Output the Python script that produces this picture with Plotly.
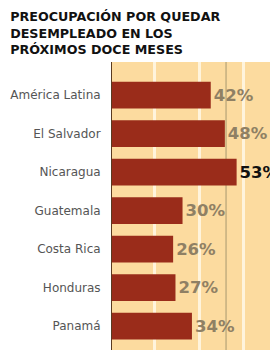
import plotly.graph_objects as go

categories = ["América Latina", "El Salvador", "Nicaragua", "Guatemala", "Costa Rica", "Honduras", "Panamá"]
values = [42, 48, 53, 30, 26, 27, 34]
value_labels = ["42%", "48%", "53%", "30%", "26%", "27%", "34%"]
label_colors = ["#8f8064", "#8f8064", "#111111", "#8f8064", "#8f8064", "#8f8064", "#8f8064"]
title_text = "PREOCUPACIÓN POR QUEDAR<br>DESEMPLEADO EN LOS<br>PRÓXIMOS DOCE MESES"
grid_vals = [18, 37, 56]
ref_line = 48.5

fig = go.Figure()
fig.add_trace(go.Bar(
    y=categories, x=values, orientation="h",
    marker=dict(color="#9a2c1a", line=dict(width=0)),
    width=0.7,
    text=value_labels, textposition="outside",
    textfont=dict(family="DejaVu Sans", size=16.5, color=label_colors, weight="bold"),
    constraintext="none", cliponaxis=False,
))
fig.add_vline(x=ref_line, line=dict(color="#a89870", width=1), layer="below")

# page body has an 8px margin; figure is sized/offset to compensate
fig.update_layout(
    width=270, height=342,
    margin=dict(l=104, r=0, t=54, b=0),
    paper_bgcolor="white", plot_bgcolor="#fcdb9f",
    showlegend=False,
    title=dict(text=title_text, x=0.008, xref="container", xanchor="left", y=1, yref="container", yanchor="top",
               pad=dict(t=13),
               font=dict(family="DejaVu Sans", size=12.7, color="#111111", weight="bold")),
    xaxis=dict(range=[0, 70.6], tickvals=grid_vals, showticklabels=False, gridcolor="#fff4dc",
               gridwidth=3, zeroline=False, showline=False, fixedrange=True),
    yaxis=dict(range=[6.62, -0.86], showgrid=False, zeroline=False,
               showline=True, linecolor="#5a3a20", linewidth=1,
               ticks="outside", ticklen=8, tickcolor="rgba(0,0,0,0)",
               tickfont=dict(family="DejaVu Sans", size=12, color="#555555")),
)
fig.write_html("out.html")
